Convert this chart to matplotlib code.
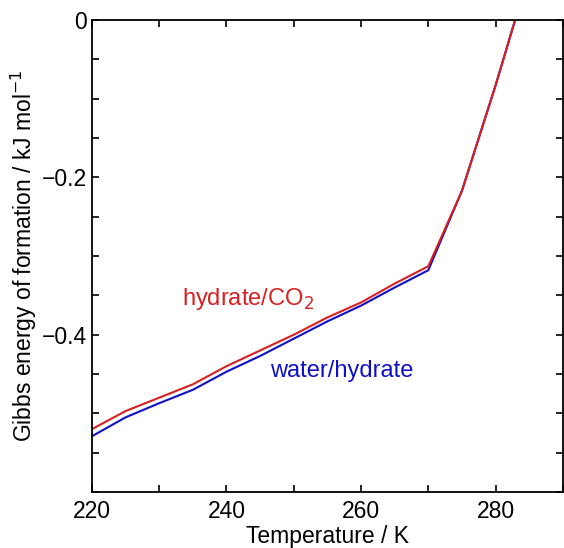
import numpy as np
import matplotlib.pyplot as plt
from matplotlib.ticker import MultipleLocator, FixedLocator

plt.rcParams['font.family'] = ['Liberation Sans', 'DejaVu Sans']

# Gibbs energy of formation of CO2 hydrate vs temperature
temp = [220, 225, 230, 235, 240, 245, 250, 255, 260, 265, 270, 275, 280, 285]
g_hydrate_co2 = [-0.520, -0.497, -0.480, -0.463, -0.440, -0.420, -0.400,
                 -0.378, -0.359, -0.335, -0.313, -0.217, -0.083, 0.060]
g_water_hydrate = [-0.529, -0.505, -0.487, -0.470, -0.447, -0.427, -0.405,
                   -0.383, -0.363, -0.340, -0.318, -0.217, -0.083, 0.060]

fig = plt.figure(figsize=(5.64, 5.48), dpi=100)
ax = fig.add_axes([0.163, 0.102, 0.835, 0.8615])

ax.plot(temp, g_water_hydrate, color='#1010c8', lw=1.5)
ax.plot(temp, g_hydrate_co2, color='#d82020', lw=1.5)

ax.text(233.4, -0.354, 'hydrate/CO$_2$', color='#d82020', fontsize=17, va='center')
ax.text(246.4, -0.446, 'water/hydrate', color='#1010c8', fontsize=17, va='center')

ax.set_xlim(220, 290)
ax.set_ylim(-0.6, 0)
ax.xaxis.set_major_locator(FixedLocator([220, 240, 260, 280]))
ax.xaxis.set_minor_locator(MultipleLocator(10))
ax.yaxis.set_major_locator(FixedLocator([0, -0.2, -0.4]))
ax.yaxis.set_minor_locator(MultipleLocator(0.05))
ax.set_yticklabels(['0', '\u22120.2', '\u22120.4'])
ax.tick_params(which='both', direction='in', top=True, right=True,
               length=5, width=1.2, labelsize=16.5)
ax.tick_params(axis='x', pad=6)
for s in ax.spines.values():
    s.set_linewidth(1.3)

ax.set_xlabel('Temperature / K', fontsize=16.5, labelpad=1)
ax.set_ylabel('Gibbs energy of formation / kJ mol$^{-1}$', fontsize=16.5, labelpad=2)

fig.savefig('out.png', dpi=100)
